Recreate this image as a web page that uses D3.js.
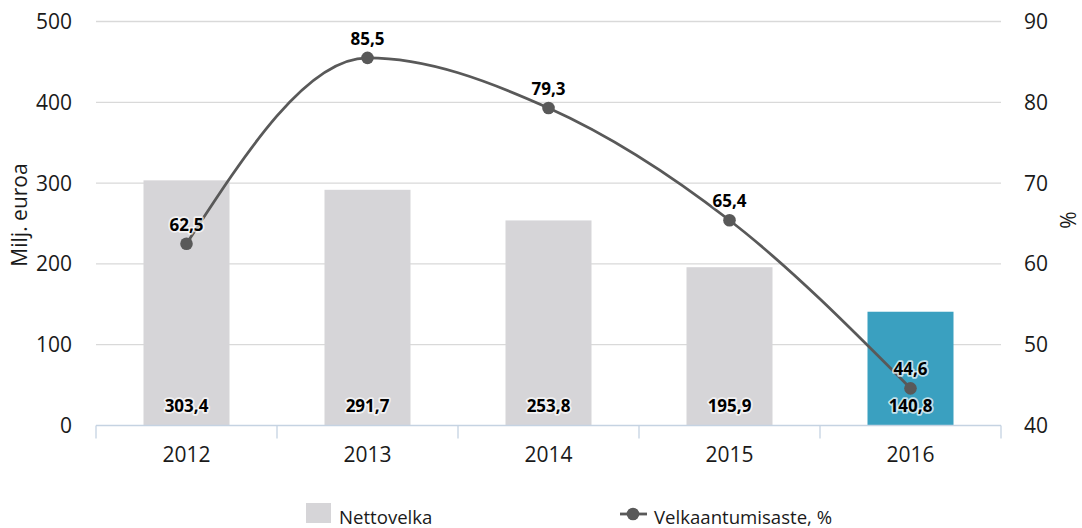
<!DOCTYPE html>
<html><head><meta charset="utf-8">
<script src="https://cdn.jsdelivr.net/npm/d3@7"></script>
<style>
body{margin:0;background:#fff;}
text{font-family:"Open Sans","Noto Sans",sans-serif;}
</style></head>
<body>
<svg id="c" width="1082" height="528"></svg>
<script>
const years = ["2012","2013","2014","2015","2016"];
const nettovelka = [303.4, 291.7, 253.8, 195.9, 140.8];
const velkaantumisaste = [62.5, 85.5, 79.3, 65.4, 44.6];
const leftTicks = [0,100,200,300,400,500];
const rightTicks = [40,50,60,70,80,90];
const fmt = v => String(v.toFixed(1)).replace(".", ",");

const svg = d3.select("#c");
const L = 96, R = 1001, T = 21.5, B = 425.5;
const x = d3.scaleBand().domain(years).range([L, R]).paddingInner(0).paddingOuter(0);
const yL = d3.scaleLinear().domain([0,500]).range([B,T]);
const yR = d3.scaleLinear().domain([40,90]).range([B,T]);

// gridlines
svg.append("g").selectAll("line").data(leftTicks.filter(d=>d>0)).join("line")
  .attr("x1", L).attr("x2", R).attr("y1", d=>yL(d)).attr("y2", d=>yL(d))
  .attr("stroke","#d9d9d9").attr("stroke-width",1.3);

// bars
const bw = 86;
svg.append("g").selectAll("rect").data(years).join("rect")
  .attr("x", d=>x(d)+x.bandwidth()/2-bw/2).attr("width", bw)
  .attr("y", (d,i)=>yL(nettovelka[i])).attr("height",(d,i)=>B-yL(nettovelka[i]))
  .attr("fill",(d,i)=> i===4 ? "#3aa0c0" : "#d6d5d8");

// bottom axis
const ax = svg.append("g");
ax.append("line").attr("x1",L).attr("x2",R).attr("y1",B).attr("y2",B).attr("stroke","#c5d3e2").attr("stroke-width",1.3);
const bounds = years.map(d=>x(d)).concat([R]);
ax.selectAll("line.t").data(bounds).join("line").attr("class","t")
  .attr("x1",d=>d).attr("x2",d=>d).attr("y1",B).attr("y2",B+13).attr("stroke","#c5d3e2").attr("stroke-width",1.3);
ax.selectAll("text").data(years).join("text")
  .attr("x",d=>x(d)+x.bandwidth()/2).attr("y",462).attr("text-anchor","middle")
  .attr("font-size",21).attr("fill","#1a1a1a").text(d=>d);

// left ticks
svg.append("g").selectAll("text").data(leftTicks).join("text")
  .attr("x",72).attr("y",d=>yL(d)+7.5).attr("text-anchor","end")
  .attr("font-size",21).attr("fill","#1a1a1a").text(d=>d);
// right ticks
svg.append("g").selectAll("text").data(rightTicks).join("text")
  .attr("x",1024).attr("y",d=>yR(d)+7.5).attr("text-anchor","start")
  .attr("font-size",21).attr("fill","#1a1a1a").text(d=>d);

// axis titles
svg.append("text").attr("transform","translate(27,215) rotate(-90)").attr("text-anchor","middle")
  .attr("font-size",21).attr("fill","#1a1a1a").text("Milj. euroa");
svg.append("text").attr("transform","translate(1076,220) rotate(-90)").attr("text-anchor","middle")
  .attr("font-size",21).attr("fill","#1a1a1a").text("%");

// line
const cx = (d,i)=>x(years[i])+x.bandwidth()/2;
const line = d3.line().x((d,i)=>cx(d,i)).y(d=>yR(d)).curve(d3.curveMonotoneX);
svg.append("path").datum(velkaantumisaste).attr("d",line).attr("fill","none")
  .attr("stroke","#595959").attr("stroke-width",2.8);
svg.append("g").selectAll("circle").data(velkaantumisaste).join("circle")
  .attr("cx",cx).attr("cy",d=>yR(d)).attr("r",6.3).attr("fill","#595959");

// labels with halo
function label(g, xx, yy, t){
  g.append("text").attr("x",xx).attr("y",yy).attr("text-anchor","middle")
    .attr("font-size",17).attr("font-weight","bold").attr("fill","none")
    .attr("stroke","#ffffff").attr("stroke-opacity",0.7).attr("stroke-width",3.5).attr("stroke-linejoin","round").text(t);
  g.append("text").attr("x",xx).attr("y",yy).attr("text-anchor","middle")
    .attr("font-size",17).attr("font-weight","bold").attr("fill","#000").text(t);
}
const lg = svg.append("g");
nettovelka.forEach((v,i)=>label(lg, cx(v,i), 412, fmt(v)));
velkaantumisaste.forEach((v,i)=>label(lg, cx(v,i), yR(v)-13, fmt(v)));

// legend
const leg = svg.append("g");
leg.append("rect").attr("x",306).attr("y",503).attr("width",25).attr("height",20).attr("fill","#d6d5d8");
leg.append("text").attr("x",339).attr("y",524).attr("font-size",18.6).attr("fill","#1a1a1a").text("Nettovelka");
leg.append("line").attr("x1",620).attr("x2",647).attr("y1",514).attr("y2",514).attr("stroke","#595959").attr("stroke-width",2.8);
leg.append("circle").attr("cx",633).attr("cy",514).attr("r",6.3).attr("fill","#595959");
leg.append("text").attr("x",654).attr("y",524).attr("font-size",18.6).attr("fill","#1a1a1a").text("Velkaantumisaste, %");
</script>
</body></html>
